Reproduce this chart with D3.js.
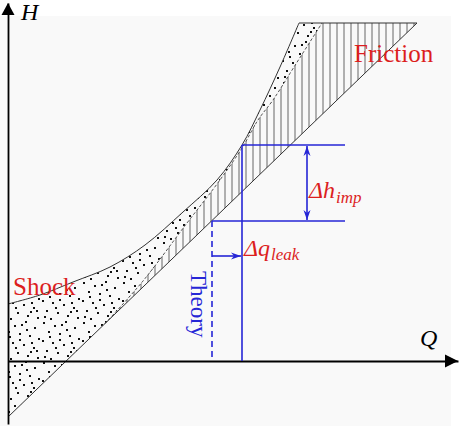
<!DOCTYPE html>
<html>
<head>
<meta charset="utf-8">
<title>H-Q losses</title>
<script src="https://cdn.jsdelivr.net/npm/d3@7"></script>
<style>
body { margin:0; background:#fff; }
text { font-family: "Liberation Serif", "Times New Roman", serif; }
</style>
</head>
<body>
<div id="chart"></div>
<script>

// values, (Q, H) in axis units
var theoryLine    = [[0, -5.6], [40.9, 33.8]];
var shockCurve    = [[0, 5.7], [3.2, 6.6], [6.5, 7.9], [10.2, 9.4], [13.7, 11.6], [17.5, 14.9],
                     [20.9, 18.1], [23.4, 21.6], [25.2, 25.1], [27.2, 29.4], [29.1, 33.8]];
var frictionCurve = [[9.7, 3.74], [13.5, 8.0], [17.9, 13.8], [20.9, 17.7], [23.4, 21.3],
                     [25.0, 24.1], [26.5, 26.1], [28.6, 29.4], [31.4, 33.8]];
var topH = 33.8;

// design point, theory point and the marks around them
var designPoint = [23.4, 21.6];
var theoryPoint = [20.4, 14.0];
var markEndQ = 33.7;
var himpQ = 29.9;
var qleakH = 10.5;

var width = 459, height = 426;
var blue = "#2626d6", red = "#dc1e1e";

var svg = d3.select("#chart").append("svg")
    .attr("width", width)
    .attr("height", height);

svg.append("rect")
    .attr("x", 0).attr("y", 16)
    .attr("width", 451).attr("height", 410)
    .attr("fill", "#f9f9f9");

var x = d3.scaleLinear().domain([0, 45]).range([8, 458]);
var y = d3.scaleLinear().domain([-6.3, 35.8]).range([424, 3]);

var defs = svg.append("defs");

// vertical hatch for friction
var hatch = defs.append("pattern")
    .attr("id", "hatch")
    .attr("patternUnits", "userSpaceOnUse")
    .attr("width", 7).attr("height", 10);
hatch.append("line")
    .attr("x1", 1).attr("x2", 1).attr("y1", 0).attr("y2", 10)
    .attr("stroke", "#555").attr("stroke-width", 0.9);

// dot texture for shock, hand placed in one tile
var dots = defs.append("pattern")
    .attr("id", "dots")
    .attr("patternUnits", "userSpaceOnUse")
    .attr("width", 40).attr("height", 40);
[[3,2],[14,5],[25,1],[34,7],[8,11],[19,13],[29,15],[38,18],[2,20],[12,22],[23,24],[33,27],
 [6,30],[17,32],[27,35],[37,37],[10,38],[21,4],[31,22],[15,27],[4,36],[26,9],[36,30],[19,19],
 [9,16],[30,31]].forEach(function(p) {
  dots.append("rect")
    .attr("x", p[0]).attr("y", p[1])
    .attr("width", 2).attr("height", 2)
    .attr("fill", "#111");
});

function arrowMarker(id) {
  defs.append("marker")
    .attr("id", id)
    .attr("markerUnits", "userSpaceOnUse")
    .attr("markerWidth", 11).attr("markerHeight", 8)
    .attr("refX", 10).attr("refY", 4)
    .attr("orient", "auto-start-reverse")
    .append("path")
    .attr("d", "M0,0.5 L10,4 L0,7.5 L3,4 Z")
    .attr("fill", blue);
}
arrowMarker("arr");

var curve = d3.line()
    .x(function(d) { return x(d[0]); })
    .y(function(d) { return y(d[1]); })
    .curve(d3.curveCatmullRom.alpha(0.5));

var straight = d3.line()
    .x(function(d) { return x(d[0]); })
    .y(function(d) { return y(d[1]); });

var upperD = curve(shockCurve);
var midD = curve(frictionCurve);
var midRevD = curve(frictionCurve.slice().reverse());
var lineEnd = theoryLine[1];

// shock area: upper curve, top edge, friction curve back down, theory line, y axis
svg.append("path")
    .attr("d", upperD + "L" + midRevD.slice(1) + "L" + x(theoryLine[0][0]) + "," + y(theoryLine[0][1]) + "Z")
    .attr("fill", "url(#dots)");

// friction area: friction curve, top edge, theory line
svg.append("path")
    .attr("d", midD + "L" + x(lineEnd[0]) + "," + y(topH) + "Z")
    .attr("fill", "url(#hatch)");

svg.append("path")
    .attr("d", straight(theoryLine))
    .attr("fill", "none").attr("stroke", "#333").attr("stroke-width", 1);

svg.append("path")
    .attr("d", upperD)
    .attr("fill", "none").attr("stroke", "#333").attr("stroke-width", 1);

svg.append("path")
    .attr("d", midD)
    .attr("fill", "none").attr("stroke", "#444").attr("stroke-width", 0.9)
    .attr("stroke-dasharray", "3,2");

svg.append("path")
    .attr("d", straight([[shockCurve[shockCurve.length - 1][0], topH], [lineEnd[0], topH]]))
    .attr("fill", "none").attr("stroke", "#333").attr("stroke-width", 1);

// axes, no ticks
svg.append("g")
    .attr("transform", "translate(0," + y(0) + ")")
    .call(d3.axisBottom(x).tickValues([]).tickSizeOuter(0));
svg.append("g")
    .attr("transform", "translate(" + x(0) + ",0)")
    .call(d3.axisLeft(y).tickValues([]).tickSizeOuter(0));
svg.selectAll(".domain").attr("stroke", "#000").attr("stroke-width", 1.8);

svg.append("path")
    .attr("d", "M" + x(45) + "," + y(0) + " l-13,-6.5 l0,13 Z")
    .attr("fill", "#000");
svg.append("path")
    .attr("d", "M" + x(0) + "," + y(35.8) + " l-6.5,12 l13,0 Z")
    .attr("fill", "#000");

svg.append("text")
    .attr("x", 21).attr("y", 20)
    .attr("font-size", 24).attr("font-style", "italic")
    .text("H");
svg.append("text")
    .attr("x", 420).attr("y", 346)
    .attr("font-size", 24).attr("font-style", "italic")
    .text("Q");

// blue construction lines
var ann = svg.append("g").attr("stroke", blue).attr("stroke-width", 1.6).attr("fill", "none");

ann.append("line")
    .attr("x1", x(designPoint[0])).attr("x2", x(designPoint[0]))
    .attr("y1", y(designPoint[1])).attr("y2", y(0));
ann.append("line")
    .attr("x1", x(designPoint[0])).attr("x2", x(markEndQ))
    .attr("y1", y(designPoint[1])).attr("y2", y(designPoint[1]));
ann.append("line")
    .attr("x1", x(theoryPoint[0])).attr("x2", x(markEndQ))
    .attr("y1", y(theoryPoint[1])).attr("y2", y(theoryPoint[1]));
ann.append("line")
    .attr("x1", x(theoryPoint[0])).attr("x2", x(theoryPoint[0]))
    .attr("y1", y(theoryPoint[1])).attr("y2", y(0))
    .attr("stroke-dasharray", "6,4");
ann.append("line")
    .attr("x1", x(himpQ)).attr("x2", x(himpQ))
    .attr("y1", y(designPoint[1]) + 1).attr("y2", y(theoryPoint[1]) - 1)
    .attr("marker-start", "url(#arr)").attr("marker-end", "url(#arr)");
ann.append("line")
    .attr("x1", x(theoryPoint[0])).attr("x2", x(designPoint[0]) - 1)
    .attr("y1", y(qleakH)).attr("y2", y(qleakH))
    .attr("marker-end", "url(#arr)");

// labels
svg.append("text")
    .attr("x", 13).attr("y", 295)
    .attr("font-size", 25).attr("fill", red)
    .text("Shock");
svg.append("text")
    .attr("x", 354).attr("y", 62)
    .attr("font-size", 25).attr("fill", red)
    .text("Friction");

var th = svg.append("text")
    .attr("x", x(himpQ) + 2).attr("y", 198)
    .attr("font-size", 24).attr("font-style", "italic").attr("fill", red);
th.append("tspan").text("Δh");
th.append("tspan").attr("font-size", 17).attr("dy", 5).attr("dx", 1).text("imp");

var tq = svg.append("text")
    .attr("x", x(designPoint[0]) + 2).attr("y", 256)
    .attr("font-size", 24).attr("font-style", "italic").attr("fill", red);
tq.append("tspan").text("Δq");
tq.append("tspan").attr("font-size", 17).attr("dy", 4).attr("dx", 1).text("leak");

svg.append("text")
    .attr("transform", "translate(191,271) rotate(90)")
    .attr("font-size", 23).attr("fill", blue)
    .text("Theory");

</script>
</body>
</html>
